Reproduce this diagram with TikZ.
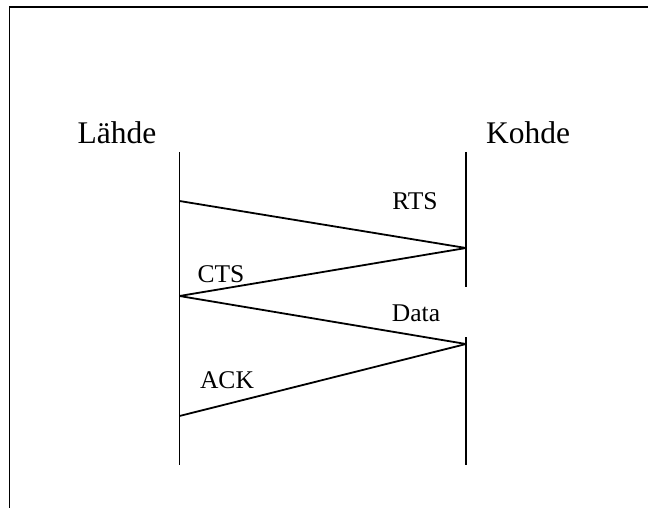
\documentclass[tikz,border=0pt]{standalone}
\usepackage{fontspec}
\setmainfont{Liberation Serif}
\begin{document}
\begin{tikzpicture}[x=1pt,y=-1pt,
  frame/.style={line width=1.9pt},
  life/.style={line width=1.8pt},
  msg/.style={line width=1.8pt},
  actor/.style={anchor=base,inner sep=0pt,font=\fontsize{31.5}{36}\selectfont},
  lbl/.style={anchor=base,inner sep=0pt,font=\fontsize{25.5}{29}\selectfont}]
\useasboundingbox (0,0) rectangle (648,508);
% frame (left and top only visible)
\draw[frame] (9.5,508) -- (9.5,7) -- (648,7);
% actors
\node[actor] (src) at (117,143) {Lähde};
\node[actor] (dst) at (528,143) {Kohde};
% lifelines
\coordinate (lt) at (179.5,152);
\coordinate (lb) at (179.5,465);
\coordinate (rt) at (466,152);
\coordinate (rb) at (466,465);
\draw[life] (lt) -- (lb);
\draw[life] (rt) -- (rb);
% message points
\coordinate (a1) at (179.5,201);
\coordinate (b1) at (466,248);
\coordinate (a2) at (179.5,296);
\coordinate (b2) at (466,344);
\coordinate (a3) at (179.5,416);
% white patch behind the Data label
\fill[white] (388,287) rectangle (469,337);
% labels
\node[lbl] (rts) at (415,209) {RTS};
\node[lbl] (cts) at (221,282) {CTS};
\node[lbl] (data) at (416,321) {Data};
\node[lbl] (ack) at (227,388) {ACK};
% messages
\draw[msg] (a1) -- (b1);
\draw[msg] (b1) -- (a2);
\draw[msg] (a2) -- (b2);
\draw[msg] (b2) -- (a3);
\end{tikzpicture}
\end{document}
